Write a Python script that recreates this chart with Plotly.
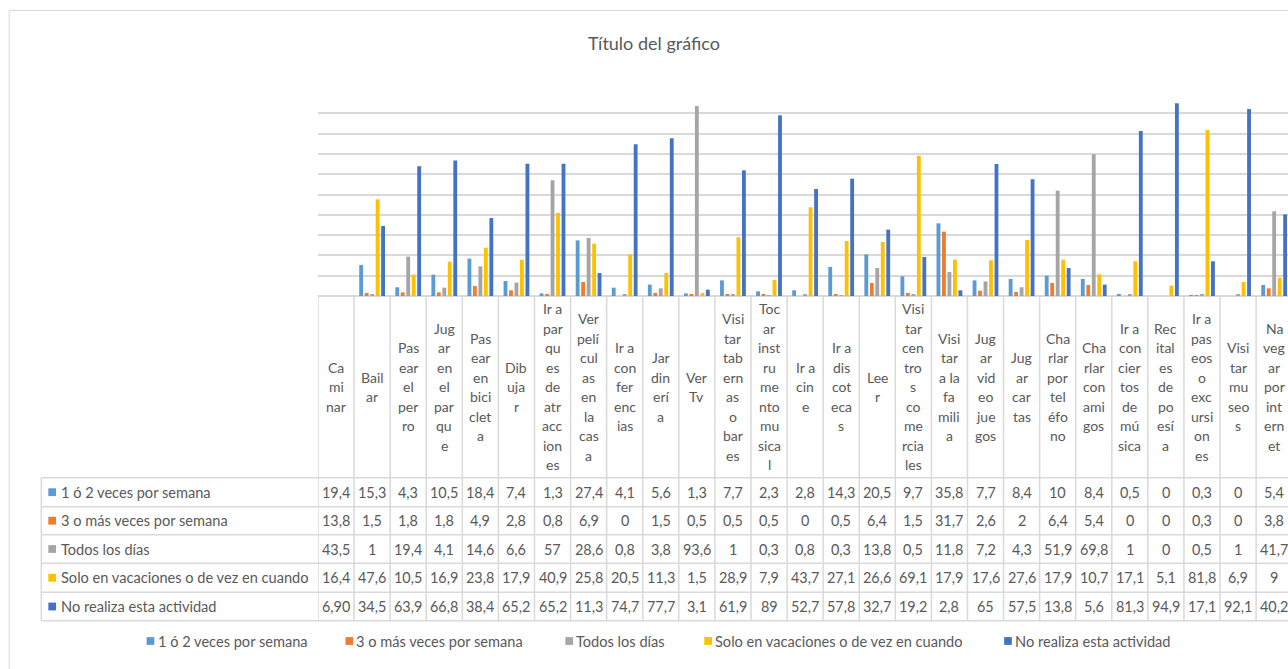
import plotly.graph_objects as go

# ---------------- data ----------------
categories = [
    "Caminar", "Bailar", "Pasear el perro", "Jugar en el parque", "Pasear en bicicleta",
    "Dibujar", "Ir a parques de atracciones", "Ver películas en la casa", "Ir a conferencias",
    "Jardinería", "Ver Tv", "Visitar tabernas o bares", "Tocar instrumento musical",
    "Ir a cine", "Ir a discotecas", "Leer", "Visitar centros comerciales",
    "Visitar a la familia", "Jugar video juegos", "Jugar cartas", "Charlar por teléfono",
    "Charlar con amigos", "Ir a conciertos de música", "Recitales de poesía",
    "Ir a paseos o excursiones", "Visitar museos", "Navegar por internet",
]
# wrapped tick labels as they appear in the table header
category_labels = [
    "Ca|mi|nar", "Bail|ar", "Pas|ear|el|per|ro", "Jug|ar|en|el|par|qu|e",
    "Pas|ear|en|bici|clet|a", "Dib|uja|r", "Ir a|par|qu|es|de|atr|acc|ion|es",
    "Ver|pelí|cul|as|en|la|cas|a", "Ir a|con|fer|enc|ias", "Jar|din|erí|a", "Ver|Tv",
    "Visi|tar|tab|ern|as|o|bar|es", "Toc|ar|inst|ru|me|nto|mu|sica|l", "Ir a|cin|e",
    "Ir a|dis|cot|eca|s", "Lee|r", "Visi|tar|cen|tro|s|co|me|rcia|les",
    "Visi|tar|a la|fa|mili|a", "Jug|ar|vid|eo|jue|gos", "Jug|ar|car|tas",
    "Cha|rlar|por|tel|éfo|no", "Cha|rlar|con|ami|gos", "Ir a|con|cier|tos|de|mú|sica",
    "Rec|ital|es|de|po|esí|a", "Ir a|pas|eos|o|exc|ursi|on|es", "Visi|tar|mu|seo|s",
    "Na|veg|ar|por|int|ern|et",
]

series_names = [
    "1 ó 2 veces por semana",
    "3 o más veces por semana",
    "Todos los días",
    "Solo en vacaciones o de vez en cuando",
    "No realiza esta actividad",
]

uno_dos_semana = ["19,4", "15,3", "4,3", "10,5", "18,4", "7,4", "1,3", "27,4", "4,1", "5,6",
                  "1,3", "7,7", "2,3", "2,8", "14,3", "20,5", "9,7", "35,8", "7,7", "8,4",
                  "10", "8,4", "0,5", "0", "0,3", "0", "5,4"]
tres_mas_semana = ["13,8", "1,5", "1,8", "1,8", "4,9", "2,8", "0,8", "6,9", "0", "1,5",
                   "0,5", "0,5", "0,5", "0", "0,5", "6,4", "1,5", "31,7", "2,6", "2",
                   "6,4", "5,4", "0", "0", "0,3", "0", "3,8"]
todos_dias = ["43,5", "1", "19,4", "4,1", "14,6", "6,6", "57", "28,6", "0,8", "3,8",
              "93,6", "1", "0,3", "0,8", "0,3", "13,8", "0,5", "11,8", "7,2", "4,3",
              "51,9", "69,8", "1", "0", "0,5", "1", "41,7"]
vacaciones = ["16,4", "47,6", "10,5", "16,9", "23,8", "17,9", "40,9", "25,8", "20,5", "11,3",
              "1,5", "28,9", "7,9", "43,7", "27,1", "26,6", "69,1", "17,9", "17,6", "27,6",
              "17,9", "10,7", "17,1", "5,1", "81,8", "6,9", "9"]
no_realiza = ["6,90", "34,5", "63,9", "66,8", "38,4", "65,2", "65,2", "11,3", "74,7", "77,7",
              "3,1", "61,9", "89", "52,7", "57,8", "32,7", "19,2", "2,8", "65", "57,5",
              "13,8", "5,6", "81,3", "94,9", "17,1", "92,1", "40,2"]

# the first category has no bars drawn in the chart (only in the data table)
bar_drawn = [False] + [True] * 26

series_values = [uno_dos_semana, tres_mas_semana, todos_dias, vacaciones, no_realiza]
colors = ["#5B9BD5", "#ED7D31", "#A5A5A5", "#FFC000", "#4472C4"]

# ---------------- layout geometry (pixels) ----------------
W, H = 1288, 669
PL, PR, PT, PB = 317.5, 1288, 93, 296     # plot area
COL_W = 36.1
ROW_LINES = [477.7, 506.7, 534.7, 563.3, 592.3, 620.7]
TABLE_LEFT = 40.7
LEGEND_Y = 641
LEGEND_KEY_X = [146, 345, 565, 704, 1004]   # left edge of each legend key
TEXT_COLOR = "#595959"
GRID = "#D9D9D9"
FONT = "Lato, Open Sans, sans-serif"


def py(p):
    return (PB - p) / (PB - PT)


def px(p):
    return (p - PL) / (PR - PL)


def num(s):
    return float(s.replace(",", "."))


n = len(categories)
xs = list(range(n))

fig = go.Figure()
for name, vals, col in zip(series_names, series_values, colors):
    yv = [num(v) if d else None for v, d in zip(vals, bar_drawn)]
    fig.add_trace(go.Bar(
        x=xs, y=yv, name=name, marker=dict(color=col, line=dict(width=0)),
        hoverinfo="skip", showlegend=False,
    ))

shapes = []
annotations = []

# outer chart border
shapes.append(dict(type="rect", xref="paper", yref="paper",
                   x0=px(8.5), x1=px(1400), y0=py(10.5), y1=py(800),
                   line=dict(color=GRID, width=1), fillcolor="rgba(0,0,0,0)", layer="below"))

# table horizontal lines
for yl in ROW_LINES:
    shapes.append(dict(type="line", xref="paper", yref="paper",
                       x0=px(TABLE_LEFT), x1=px(1400), y0=py(yl), y1=py(yl),
                       line=dict(color=GRID, width=1.5)))
# table left border
shapes.append(dict(type="line", xref="paper", yref="paper",
                   x0=px(TABLE_LEFT), x1=px(TABLE_LEFT), y0=py(ROW_LINES[0]), y1=py(ROW_LINES[-1]),
                   line=dict(color=GRID, width=1.5)))
# column separators
for i in range(n + 1):
    shapes.append(dict(type="line", xref="x", yref="paper",
                       x0=i - 0.5, x1=i - 0.5, y0=py(PB), y1=py(ROW_LINES[-1]),
                       line=dict(color=GRID, width=1.5)))

# header labels (one annotation per wrapped line)
header_center = (PB + ROW_LINES[0]) / 2
LINE_PITCH = 19.5
for i, lab in enumerate(category_labels):
    parts = lab.split("|")
    k = len(parts)
    for j, part in enumerate(parts):
        yc = header_center + (j - (k - 1) / 2) * LINE_PITCH
        annotations.append(dict(xref="x", yref="paper", x=i, y=py(yc), text=part,
                                showarrow=False, xanchor="center", yanchor="middle",
                                font=dict(family=FONT, size=14, color=TEXT_COLOR)))

# table rows
for r, (name, vals, col) in enumerate(zip(series_names, series_values, colors)):
    yc = (ROW_LINES[r] + ROW_LINES[r + 1]) / 2
    shapes.append(dict(type="rect", xref="paper", yref="paper",
                       x0=px(47.7), x1=px(55.4), y0=py(yc - 3.9), y1=py(yc + 3.9),
                       fillcolor=col, line=dict(width=0)))
    annotations.append(dict(xref="paper", yref="paper", x=px(58), y=py(yc), text=name,
                            showarrow=False, xanchor="left", yanchor="middle",
                            font=dict(family=FONT, size=14.6, color=TEXT_COLOR)))
    for i, v in enumerate(vals):
        annotations.append(dict(xref="x", yref="paper", x=i, y=py(yc), text=v,
                                showarrow=False, xanchor="center", yanchor="middle",
                                font=dict(family=FONT, size=14.4, color=TEXT_COLOR)))

# legend below the table
for name, col, kx in zip(series_names, colors, LEGEND_KEY_X):
    shapes.append(dict(type="rect", xref="paper", yref="paper",
                       x0=px(kx), x1=px(kx + 7.7), y0=py(LEGEND_Y - 3.9), y1=py(LEGEND_Y + 3.9),
                       fillcolor=col, line=dict(width=0)))
    annotations.append(dict(xref="paper", yref="paper", x=px(kx + 9), y=py(LEGEND_Y),
                            text=name, showarrow=False, xanchor="left", yanchor="middle",
                            font=dict(family=FONT, size=14.6, color=TEXT_COLOR)))

fig.update_layout(
    width=W, height=H,
    margin=dict(l=PL, r=W - PR, t=PT, b=H - PB, pad=0),
    paper_bgcolor="white", plot_bgcolor="white",
    barmode="group", bargap=0.24, bargroupgap=0.3,
    title=dict(text="Título del gráfico", x=654 / W, xanchor="center",
               y=1 - 44 / H, yanchor="middle",
               font=dict(family=FONT, size=18, color=TEXT_COLOR)),
    xaxis=dict(range=[-0.5, -0.5 + (PR - PL) / COL_W], showticklabels=False,
               showgrid=False, zeroline=False, showline=False, fixedrange=True),
    yaxis=dict(range=[0, 100], dtick=10, showticklabels=False, showgrid=True,
               gridcolor=GRID, gridwidth=1.5, zeroline=True, zerolinecolor=GRID,
               zerolinewidth=1.5, showline=False, fixedrange=True),
    shapes=shapes, annotations=annotations,
    showlegend=False,
)

fig.write_html("out.html", config={"displayModeBar": False})
